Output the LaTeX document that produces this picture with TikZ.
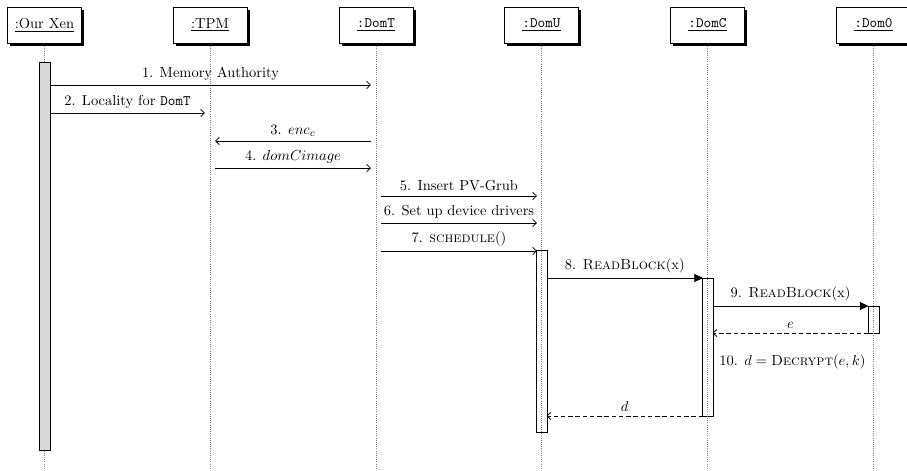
\documentclass[tikz,border=0pt]{standalone}
\usetikzlibrary{arrows.meta,shadows}
\begin{document}
\begin{tikzpicture}[x=0.69pt,y=-0.69pt,
  objbox/.style={draw,fill=white,line width=0.5pt,minimum width=51pt,minimum height=24.8pt,inner sep=0pt,
    drop shadow={shadow xshift=2pt,shadow yshift=-2pt,fill=black,opacity=1}},
  lifeline/.style={densely dotted,gray,line width=0.5pt},
  actbar/.style={draw,line width=0.5pt,minimum width=7.4pt,inner sep=0pt},
  msg/.style={line width=0.55pt,-{Straight Barb[length=2.6pt,width=5pt]}},
  callmsg/.style={line width=0.55pt,-{Triangle[length=6pt,width=5.5pt]}},
  retmsg/.style={line width=0.55pt,dash pattern=on 3pt off 2pt,-{Straight Barb[length=2.6pt,width=5pt]}},
  lbl/.style={midway,above,inner sep=0pt,yshift=3pt}]
\useasboundingbox (0,0) rectangle (907,470);
% objects
\node[objbox] (xen) at (44.5,25) {\underline{:Our Xen}};
\node[objbox] (tpm) at (210,25) {\underline{:TPM}};
\node[objbox] (domt) at (376,25) {\underline{\texttt{:DomT}}};
\node[objbox] (domu) at (541.5,25) {\underline{\texttt{:DomU}}};
\node[objbox] (domc) at (707.5,25) {\underline{\texttt{:DomC}}};
\node[objbox] (dom0) at (873.5,25) {\underline{\texttt{:Dom0}}};
% activation bars (white)
\node[actbar,fill=white,minimum height=125.6pt] (ubar) at (541.5,341) {};
\node[actbar,fill=white,minimum height=95.2pt] (cbar) at (707.5,347) {};
\node[actbar,fill=white,minimum height=18.6pt] (zbar) at (873.5,319.5) {};
% lifelines
\coordinate (xenend) at (44.5,470);
\coordinate (tpmend) at (210,470);
\coordinate (domtend) at (376,470);
\coordinate (domuend) at (541.5,470);
\coordinate (domcend) at (707.5,470);
\coordinate (dom0end) at (873.5,470);
\draw[lifeline] ([yshift=-2pt]xen.south) -- (xenend);
\draw[lifeline] ([yshift=-2pt]tpm.south) -- (tpmend);
\draw[lifeline] ([yshift=-2pt]domt.south) -- (domtend);
\draw[lifeline] ([yshift=-2pt]domu.south) -- (domuend);
\draw[lifeline] ([yshift=-2pt]domc.south) -- (domcend);
\draw[lifeline] ([yshift=-2pt]dom0.south) -- (dom0end);
% Our Xen activation bar
\node[actbar,fill=black!15,minimum height=267.7pt] (xbar) at (44.5,256) {};
% message end points
\coordinate (m1a) at (50,85);   \coordinate (m1b) at (371,85);
\coordinate (m2a) at (50,113);  \coordinate (m2b) at (205,113);
\coordinate (m3a) at (371,141); \coordinate (m3b) at (215,141);
\coordinate (m4a) at (215,168); \coordinate (m4b) at (371,168);
\coordinate (m5a) at (381,196); \coordinate (m5b) at (537,196);
\coordinate (m6a) at (381,223); \coordinate (m6b) at (537,223);
\coordinate (m7a) at (381,251); \coordinate (m7b) at (537,251);
\coordinate (m8a) at (546.5,278); \coordinate (m8b) at (703,278);
\coordinate (m9a) at (712.5,306); \coordinate (m9b) at (868.5,306);
\coordinate (mea) at (868.5,333); \coordinate (meb) at (712.5,333);
\coordinate (mda) at (703,416); \coordinate (mdb) at (546.5,416);
% messages
\draw[msg] (m1a) -- (m1b) node[lbl] {1. Memory Authority};
\draw[msg] (m2a) -- (m2b) node[lbl] {2. Locality for \texttt{DomT}};
\draw[msg] (m3a) -- (m3b) node[lbl] {3. $enc_c$};
\draw[msg] (m4a) -- (m4b) node[lbl] {4. $domCimage$};
\draw[msg] (m5a) -- (m5b) node[lbl] {5. Insert PV-Grub};
\draw[msg] (m6a) -- (m6b) node[lbl] {6. Set up device drivers};
\draw[msg] (m7a) -- (m7b) node[lbl] {7. \textsc{schedule}()};
\draw[callmsg] (m8a) -- (m8b) node[lbl] {8. \textsc{ReadBlock}(x)};
\draw[callmsg] (m9a) -- (m9b) node[lbl] {9. \textsc{ReadBlock}(x)};
\draw[retmsg] (mea) -- (meb) node[lbl] {$e$};
\node[anchor=west,inner sep=0pt] (step10) at (719,362) {10. $d = \textsc{Decrypt}(e, k)$};
\draw[retmsg] (mda) -- (mdb) node[lbl] {$d$};
\end{tikzpicture}
\end{document}
